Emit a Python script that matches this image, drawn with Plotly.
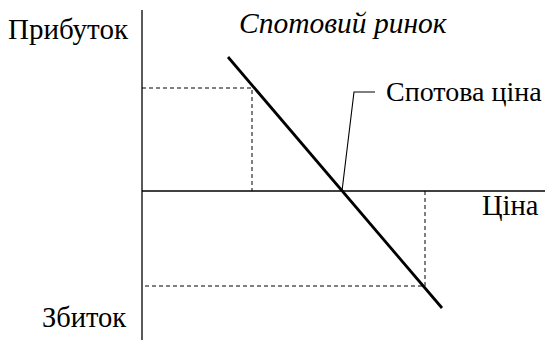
import plotly.graph_objects as go

# Conceptual data (price on x, profit on y); origin at the axes crossing
spot_price = 10.0
line_price = [4.3, 15.0]
line_profit = [6.7, -5.85]
low_price, high_profit = 5.5, 5.15
high_price, low_profit = 14.15, -4.75
callout_price = [spot_price, 10.6, 11.65]
callout_profit = [0.0, 4.95, 4.95]

axis_x_end = 20.15
axis_y_top = 9.05
x_range = [-7.1, 20.45]
y_range = [-7.45, 9.55]

FONT = "Liberation Serif, Times New Roman, serif"
fig = go.Figure()

# axes
fig.add_trace(go.Scatter(x=[0, 0], y=[axis_y_top, y_range[0]], mode="lines",
                         line=dict(color="black", width=1.3), hoverinfo="skip"))
fig.add_trace(go.Scatter(x=[0, axis_x_end], y=[0, 0], mode="lines",
                         line=dict(color="black", width=1.3), hoverinfo="skip"))
# dashed guides
fig.add_trace(go.Scatter(x=[0, low_price, low_price], y=[high_profit, high_profit, 0],
                         mode="lines", line=dict(color="black", width=1, dash="4px,3px"),
                         hoverinfo="skip"))
fig.add_trace(go.Scatter(x=[high_price, high_price, 0], y=[0, low_profit, low_profit],
                         mode="lines", line=dict(color="black", width=1, dash="4px,3px"),
                         hoverinfo="skip"))
# payoff line
fig.add_trace(go.Scatter(x=line_price, y=line_profit, mode="lines",
                         line=dict(color="black", width=2.8), hoverinfo="skip"))
# callout
fig.add_trace(go.Scatter(x=callout_price, y=callout_profit, mode="lines",
                         line=dict(color="black", width=1.1), hoverinfo="skip"))

def txt(x, y, s, anchor="left", italic=False, size=28.5):
    fig.add_annotation(x=x, y=y, text=s, showarrow=False, xanchor=anchor, yanchor="middle",
                       borderpad=0,
                       font=dict(family=FONT, size=size, color="black",
                                 style="italic" if italic else "normal"))

txt(-0.6, 8.1, "Прибуток", anchor="right", size=29)
txt(-0.75, -6.3, "Збиток", anchor="right")
txt(19.9, -0.7, "Ціна", anchor="right")
txt(12.15, 5.0, "Спотова ціна", size=28)
txt(4.8, 8.4, "Спотовий ринок", italic=True, size=29.5)

fig.update_layout(width=551, height=340, margin=dict(l=0, r=0, t=0, b=0),
                  paper_bgcolor="white", plot_bgcolor="white", showlegend=False)
fig.update_xaxes(range=x_range, visible=False, fixedrange=True)
fig.update_yaxes(range=y_range, visible=False, fixedrange=True)
fig.write_html("out.html", config={"displayModeBar": False},
               post_script="document.body.style.margin='0';")
